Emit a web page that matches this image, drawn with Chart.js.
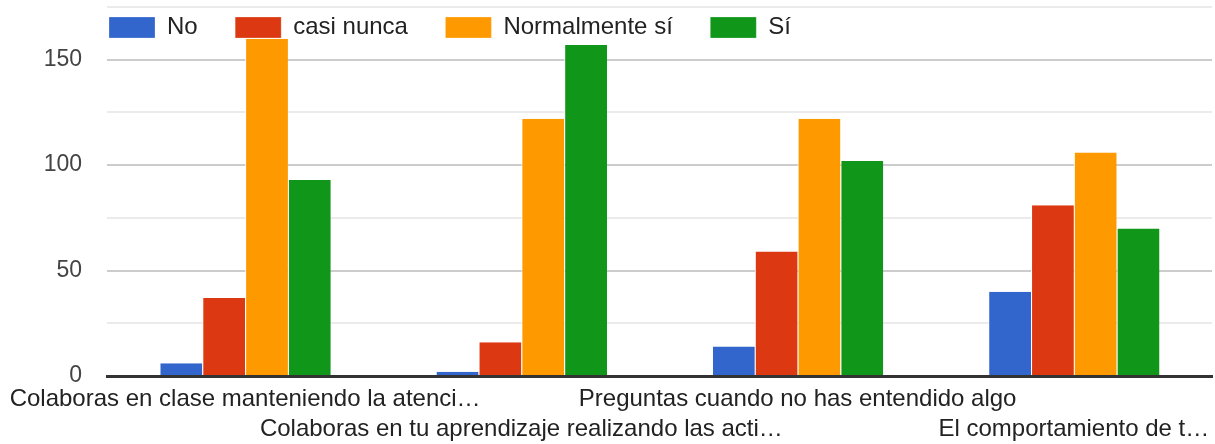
<!DOCTYPE html>
<html><head><meta charset="utf-8">
<script src="https://cdn.jsdelivr.net/npm/chart.js@4.4.0/dist/chart.umd.min.js"></script>
<style>html,body{margin:0;padding:0;background:#fff}canvas{display:block}</style>
</head><body>
<canvas id="c" width="1215" height="444"></canvas>
<script>
const categories = [
  'Colaboras en clase manteniendo la atenci…',
  'Colaboras en tu aprendizaje realizando las acti…',
  'Preguntas cuando no has entendido algo',
  'El comportamiento de t…'
];
const seriesNames = ['No', 'casi nunca', 'Normalmente sí', 'Sí'];
const noValues = [6, 2, 14, 40];
const casiNuncaValues = [37, 16, 59, 81];
const normalmenteValues = [160, 122, 122, 106];
const siValues = [93, 157, 102, 70];
const yTickLabels = [0, 50, 100, 150];
const seriesColors = ['#3366cc', '#dc3912', '#ff9900', '#109618'];

const FONT = "'Liberation Sans', Arial, sans-serif";
Chart.defaults.font.family = FONT;

const LEG_PAD = 37.5;
const LEG_FONT = 24;
const legendOverlay = {
  id: 'legendOverlay',
  beforeLayout(chart) {
    const lg = chart.legend;
    if (lg && !lg._patched) {
      const origFit = lg.fit;
      lg.fit = function () { origFit.call(this); this._fullH = this.height; this.height = 0; };
      lg._patched = true;
    }
  },
  afterLayout(chart) {
    const lg = chart.legend;
    if (!lg) return;
    const h = lg._fullH || 72;
    lg.left = 109 - LEG_PAD;
    lg.right = chart.width;
    lg.width = lg.right - lg.left;
    lg.top = 17 - LEG_PAD - (LEG_FONT - 21) / 2;
    lg.height = h;
    lg.bottom = lg.top + h;
  }
};

const seriesValues = [noValues, casiNuncaValues, normalmenteValues, siValues];
new Chart(document.getElementById('c'), {
  type: 'bar',
  data: {
    labels: categories,
    datasets: seriesNames.map((n, i) => ({
      label: n,
      data: seriesValues[i],
      backgroundColor: seriesColors[i],
      borderColor: '#ffffff',
      borderWidth: {left: 1, right: 0, top: 0, bottom: 0},
      borderSkipped: false,
      categoryPercentage: 0.62,
      barPercentage: 1.0
    }))
  },
  plugins: [legendOverlay],
  options: {
    responsive: false,
    animation: false,
    devicePixelRatio: 1,
    layout: {padding: {top: 7, right: 3, left: 0, bottom: 0}},
    plugins: {
      tooltip: {enabled: false},
      legend: {
        position: 'top',
        align: 'start',
        labels: {
          boxWidth: 46, boxHeight: 21, padding: LEG_PAD,
          color: '#222', font: {size: LEG_FONT, family: FONT}
        }
      }
    },
    scales: {
      x: {
        grid: {display: false, drawTicks: false},
        border: {display: true, color: '#333333', width: 3},
        ticks: {
          autoSkip: false, maxRotation: 0, minRotation: 0,
          padding: 8, color: '#222',
          font: {size: 24, family: FONT, lineHeight: 1.25},
          callback: function (v, i) { const l = this.getLabelForValue(v); return i % 2 ? ['', l] : l; }
        },
        afterFit(s) { s.height = 68; s.paddingLeft = 0; s.paddingRight = 0; }
      },
      y: {
        min: 0, max: 175,
        grid: {
          drawTicks: false, lineWidth: 2,
          color: c => (c.tick && c.tick.value % 50 === 0) ? '#cccccc' : '#ebebeb'
        },
        border: {display: false},
        ticks: {
          stepSize: 25, padding: 25, color: '#444',
          font: {size: 23, family: FONT},
          callback: v => yTickLabels.includes(v) ? String(v) : ''
        },
        afterFit(s) { s.width = 107; s.paddingTop = 0; s.paddingBottom = 0; }
      }
    }
  }
});
</script>
</body></html>
